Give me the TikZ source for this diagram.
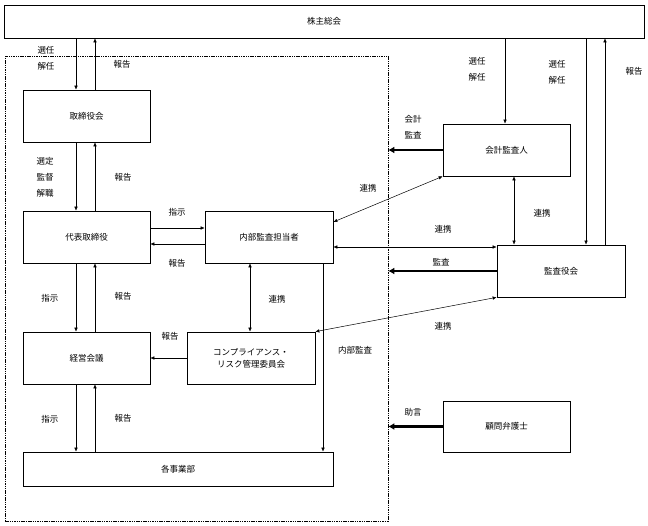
\documentclass[tikz,border=0pt]{standalone}
\usepackage{fontspec}
\setmainfont{Noto Sans CJK JP}
\usetikzlibrary{arrows.meta}
\begin{document}
\begin{tikzpicture}[x=1pt,y=-1pt,
  font=\fontsize{8.5}{16}\selectfont,
  box/.style={draw, line width=0.7pt, inner sep=1pt, align=center},
  lbl/.style={inner sep=0pt, align=center},
  arr/.style={line width=0.5pt, -{Latex[length=4pt,width=3.5pt]}},
  darr/.style={line width=0.5pt, {Latex[length=4pt,width=3.5pt]}-{Latex[length=4pt,width=3.5pt]}},
  tarr/.style={line width=2.4pt, -{Latex[length=6pt,width=7pt]}}
]
\useasboundingbox (0,0) rectangle (648,526);
% frame
\node[draw, line width=0.6pt, dash pattern=on 1.5pt off 0.8pt, minimum width=383pt, minimum height=465pt, inner sep=0] (frame) at (196.5,288.5) {};
% boxes
\node[box, minimum width=640pt, minimum height=33pt] (kabu) at (324,21.5) {株主総会};
\node[box, minimum width=127pt, minimum height=52pt] (tori) at (86.5,116) {取締役会};
\node[box, minimum width=127pt, minimum height=52pt] (daihyo) at (86.5,237) {代表取締役};
\node[box, minimum width=128pt, minimum height=52pt] (naibu) at (269,237) {内部監査担当者};
\node[box, minimum width=127pt, minimum height=52pt] (keiei) at (86.5,358) {経営会議};
\node[box, minimum width=128pt, minimum height=52pt, font=\fontsize{8.5}{12}\selectfont] (comp) at (251,358) {コンプライアンス・\\リスク管理委員会};
\node[box, minimum width=310pt, minimum height=34pt] (kaku) at (178,469) {各事業部};
\node[box, minimum width=127pt, minimum height=52pt] (kaikei) at (506.5,150) {会計監査人};
\node[box, minimum width=128pt, minimum height=52pt] (kansa) at (561,271) {監査役会};
\node[box, minimum width=127pt, minimum height=51pt] (komon) at (506.5,426.5) {顧問弁護士};
% x positions
\coordinate (xa) at (76,0);
\coordinate (xb) at (95,0);
\coordinate (xc) at (505,0);
\coordinate (xd) at (586,0);
\coordinate (xe) at (605,0);
\coordinate (xf) at (250,0);
\coordinate (xg) at (323,0);
\coordinate (xh) at (514,0);
\coordinate (ya) at (0,228);
\coordinate (yb) at (0,244);
\coordinate (yc) at (0,247);
\coordinate (yd) at (0,222);
% vertical chain
\draw[arr] (kabu.south -| xa) -- (tori.north -| xa);
\draw[arr] (tori.north -| xb) -- (kabu.south -| xb);
\draw[arr] (tori.south -| xa) -- (daihyo.north -| xa);
\draw[arr] (daihyo.north -| xb) -- (tori.south -| xb);
\draw[arr] (daihyo.south -| xa) -- (keiei.north -| xa);
\draw[arr] (keiei.north -| xb) -- (daihyo.south -| xb);
\draw[arr] (keiei.south -| xa) -- (kaku.north -| xa);
\draw[arr] (kaku.north -| xb) -- (keiei.south -| xb);
% daihyo - naibu
\draw[arr] (daihyo.east |- ya) -- (naibu.west |- ya);
\draw[arr] (naibu.west |- yb) -- (daihyo.east |- yb);
% naibu - comp
\draw[darr] (naibu.south -| xf) -- (comp.north -| xf);
\draw[arr] (comp.west) -- (keiei.east |- comp.west);
% internal audit
\draw[arr] (naibu.south -| xg) -- (kaku.north -| xg);
% right side
\draw[arr] (kabu.south -| xc) -- (kaikei.north -| xc);
\draw[arr] (kabu.south -| xd) -- (kansa.north -| xd);
\draw[arr] (kansa.north -| xe) -- (kabu.south -| xe);
\draw[darr] (kaikei.south -| xh) -- (kansa.north -| xh);
\draw[darr] (naibu.east |- yd) -- (kaikei.south west);
\draw[darr] (naibu.east |- yc) -- (kansa.west |- yc);
\draw[darr] (comp.north east) -- (kansa.south west);
% thick arrows
\draw[tarr] (kaikei.west) -- (kaikei.west -| frame.east);
\draw[tarr] (kansa.west) -- (kansa.west -| frame.east);
\draw[tarr] (komon.west) -- (komon.west -| frame.east);
% labels
\node[lbl] (l1) at (46,58) {選任\\解任};
\node[lbl] (l2) at (122,64) {報告};
\node[lbl] (l3) at (45,177) {選定\\監督\\解職};
\node[lbl] (l4) at (123,177) {報告};
\node[lbl] (l5) at (177,212) {指示};
\node[lbl] (l6) at (177,263) {報告};
\node[lbl] (l7) at (50,298) {指示};
\node[lbl] (l8) at (123,296) {報告};
\node[lbl] (l9) at (277,299) {連携};
\node[lbl] (l10) at (170,336) {報告};
\node[lbl] (l11) at (355,350) {内部監査};
\node[lbl] (l12) at (50,419) {指示};
\node[lbl] (l13) at (123,418) {報告};
\node[lbl] (l14) at (477,69) {選任\\解任};
\node[lbl] (l15) at (557,72) {選任\\解任};
\node[lbl] (l16) at (634,71) {報告};
\node[lbl] (l17) at (413,127) {会計\\監査};
\node[lbl] (l18) at (368,188) {連携};
\node[lbl] (l19) at (542,213) {連携};
\node[lbl] (l20) at (443,229) {連携};
\node[lbl] (l21) at (441,262) {監査};
\node[lbl] (l22) at (443,326) {連携};
\node[lbl] (l23) at (413,412) {助言};
\end{tikzpicture}
\end{document}
